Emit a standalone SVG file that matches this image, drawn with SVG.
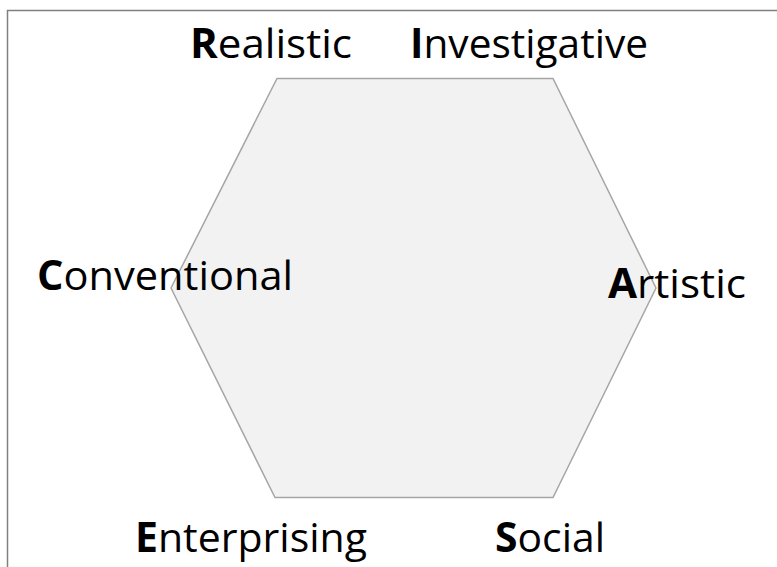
<svg xmlns="http://www.w3.org/2000/svg" width="777" height="567" viewBox="0 0 777 567">
<style>
.lbl{font-family:"Open Sans","Liberation Sans",sans-serif;font-size:41px;fill:#000}
.b{font-weight:bold}
</style>
<rect width="777" height="567" fill="#fff"/>
<path d="M7.5 567 V10.5 H777" fill="none" stroke="#808080" stroke-width="1.5"/>
<g id="hexagon">
<polygon points="277,78.5 553,78.5 656,288 553,497.5 275,497.5 171,288" fill="#f2f2f2" stroke="#a6a6a6" stroke-width="1.5"/>
</g>
<g id="realistic"><text class="lbl" x="190" y="58" textLength="162" lengthAdjust="spacingAndGlyphs"><tspan class="b">R</tspan>ealistic</text></g>
<g id="investigative"><text class="lbl" x="410" y="58" textLength="238" lengthAdjust="spacingAndGlyphs"><tspan class="b">I</tspan>nvestigative</text></g>
<g id="conventional"><text class="lbl" x="37" y="290" textLength="256" lengthAdjust="spacingAndGlyphs"><tspan class="b">C</tspan>onventional</text></g>
<g id="artistic"><text class="lbl" x="608" y="298" textLength="138" lengthAdjust="spacingAndGlyphs"><tspan class="b">A</tspan>rtistic</text></g>
<g id="enterprising"><text class="lbl" x="135" y="552" textLength="232" lengthAdjust="spacingAndGlyphs"><tspan class="b">E</tspan>nterprising</text></g>
<g id="social"><text class="lbl" x="495" y="552" textLength="110" lengthAdjust="spacingAndGlyphs"><tspan class="b">S</tspan>ocial</text></g>
<g id="connectors"></g>
</svg>
